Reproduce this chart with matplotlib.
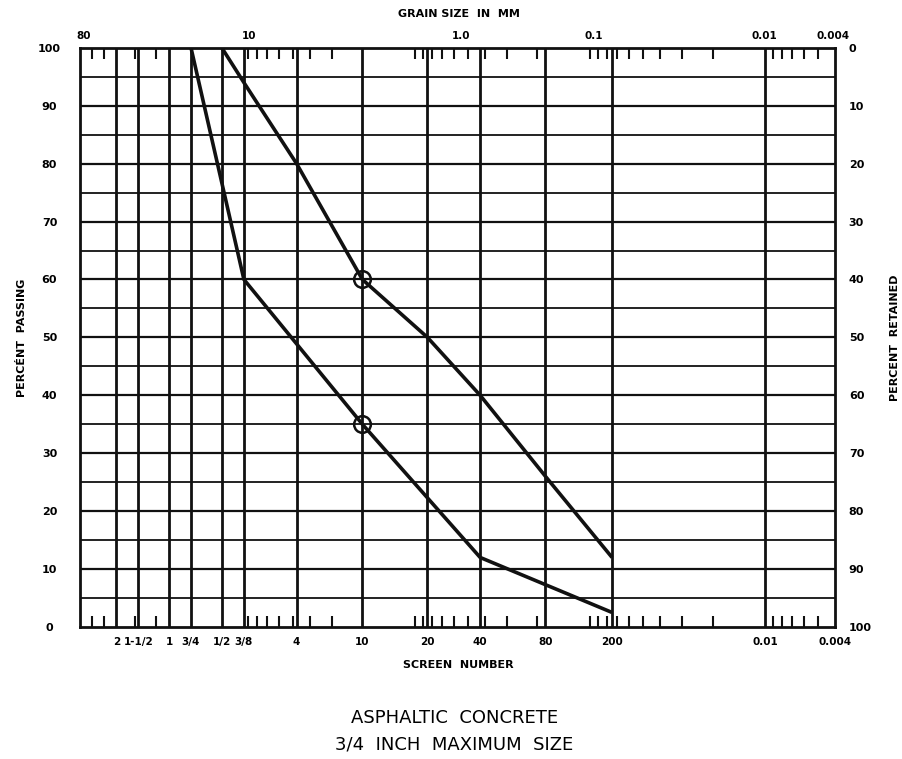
import numpy as np
import matplotlib
matplotlib.use('Agg')
import matplotlib.pyplot as plt

# ── sieve openings (mm) and their labels ──────────────────────────────────────
SIEVE_MM     = [50.8, 38.1, 25.4, 19.05, 12.7, 9.5, 4.75, 2.0, 0.85, 0.425, 0.18, 0.075, 0.01, 0.004]
SIEVE_LABELS = ['2', '1-1/2', '1', '3/4', '1/2', '3/8', '4', '10', '20', '40', '80', '200', '0.01', '0.004']

# top scale labels (grain size in mm) — placed where the chart prints them
TOP_LABEL_MM = [78, 8.84, 0.548, 0.096, 0.0101, 0.0041]
TOP_LABELS   = ['80', '10', '1.0', '0.1', '0.01', '0.004']

# small tick marks along top and bottom edges
MINOR_MM = [70, 60, 40, 30, 9, 8, 7, 6, 5, 4, 3,
            1.0, 0.9, 0.8, 0.7, 0.6, 0.5, 0.4, 0.3, 0.2,
            0.1, 0.09, 0.08, 0.07, 0.06, 0.05, 0.04, 0.03, 0.02,
            0.009, 0.008, 0.007, 0.006, 0.005]

# grading band limits (percent passing)
UPPER_MM   = [12.7, 9.5, 4.75, 2.0, 0.85, 0.425, 0.18, 0.075]
UPPER_PASS = [100, 94, 80, 60, 50, 40, 26, 12]
LOWER_MM   = [19.05, 9.5, 2.0, 0.425, 0.075]
LOWER_PASS = [100, 60, 35, 12, 2.5]

# control points marked with circles
MARK_MM   = [2.0, 2.0]
MARK_PASS = [60, 35]

X_MAX, X_MIN = 82, 0.004

fig = plt.figure(figsize=(9.03, 7.59), dpi=100)
ax = fig.add_axes([0.0886, 0.174, 0.836, 0.763])

ax.set_xscale('log')
ax.set_xlim(X_MAX, X_MIN)
ax.set_ylim(0, 100)

# grid — vertical lines at sieve sizes, horizontal every 5 %
for mm in SIEVE_MM[:-1]:
    ax.axvline(mm, color='#111111', lw=2.0, zorder=1)
for p in range(5, 100, 5):
    ax.axhline(p, color='#111111', lw=1.6 if p % 10 == 0 else 1.3, zorder=1)

# grading limits
ax.plot(UPPER_MM, UPPER_PASS, color='#111111', lw=2.6, zorder=3, solid_capstyle='butt')
ax.plot(LOWER_MM, LOWER_PASS, color='#111111', lw=2.6, zorder=3, solid_capstyle='butt')
ax.plot(MARK_MM, MARK_PASS, 'o', ms=12, mfc='none', mec='#111111', mew=1.8, zorder=4)

for s in ax.spines.values():
    s.set_linewidth(2.0)
    s.set_color('#111111')

# right: percent retained
ax_r = ax.twinx()
ax_r.set_ylim(100, 0)
ax_r.set_yticks(range(0, 101, 10))
ax_r.set_yticklabels([str(v) for v in range(0, 101, 10)], fontsize=8, fontweight='bold')
ax_r.tick_params(axis='y', length=0, pad=10)

# top: grain size in mm
ax_t = ax.twiny()
ax_t.set_xscale('log')
ax_t.set_xlim(X_MAX, X_MIN)
ax_t.set_xticks(TOP_LABEL_MM)
ax_t.set_xticklabels(TOP_LABELS, fontsize=7.5, fontweight='bold')
ax_t.xaxis.set_minor_locator(matplotlib.ticker.NullLocator())
ax_t.tick_params(axis='x', length=0, pad=5)
for s in ax_t.spines.values():
    s.set_visible(False)
for s in ax_r.spines.values():
    s.set_visible(False)

# bottom: screen numbers (set after twins, which reset tick sides)
ax.set_xticks(SIEVE_MM)
ax.set_xticklabels(SIEVE_LABELS, fontsize=7.5, fontweight='bold')
ax.set_xticks(MINOR_MM, minor=True)
ax.xaxis.set_minor_formatter(matplotlib.ticker.NullFormatter())
ax.tick_params(axis='x', which='major', length=0, pad=7)
ax.tick_params(axis='x', which='minor', direction='in', top=True, bottom=True,
               labeltop=False, length=8, width=1.5, color='#111111')

ax.set_yticks(range(0, 101, 10))
ax.set_yticklabels([str(v) for v in range(0, 101, 10)], fontsize=8, fontweight='bold')
ax.tick_params(axis='y', length=0, pad=22)
for lab in ax.get_yticklabels():
    lab.set_horizontalalignment('center')

fig.text(0.508, 0.982, 'GRAIN SIZE  IN  MM', ha='center', va='center',
         fontsize=8, fontweight='bold')
fig.text(0.508, 0.124, 'SCREEN  NUMBER', ha='center', va='center',
         fontsize=8, fontweight='bold')
fig.text(0.024, 0.555, 'PERCÉNT  PASSING', ha='center', va='center',
         rotation=90, fontsize=8, fontweight='bold')
fig.text(0.991, 0.555, 'PERCENT  RETAINED', ha='center', va='center',
         rotation=90, fontsize=8, fontweight='bold')

fig.text(0.503, 0.054, 'ASPHALTIC  CONCRETE', ha='center', va='center', fontsize=13)
fig.text(0.503, 0.019, '3/4  INCH  MAXIMUM  SIZE', ha='center', va='center', fontsize=13)

plt.savefig('out.png', dpi=100)
